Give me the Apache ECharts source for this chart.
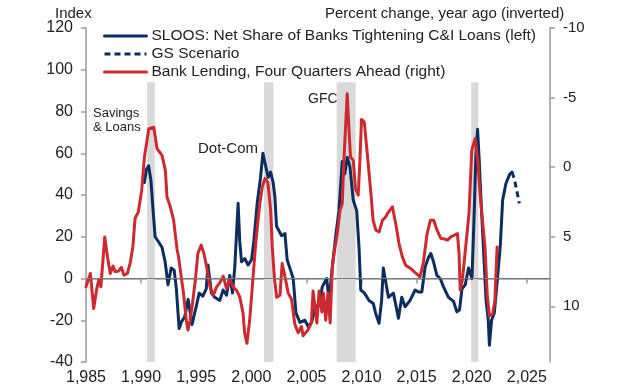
<!DOCTYPE html>
<html>
<head>
<meta charset="utf-8">
<script src="https://cdn.jsdelivr.net/npm/echarts@6/dist/echarts.min.js"></script>
<style>
html,body{margin:0;padding:0;background:#fff;}
#chart{width:621px;height:388px;}
</style>
</head>
<body>
<div id="chart"></div>
<script>
// ---- Data ----
const xTicks = [1985, 1990, 1995, 2000, 2005, 2010, 2015, 2020, 2025];
const leftTicks = [-40, -20, 0, 20, 40, 60, 80, 100, 120];
const rightTicks = [-10, -5, 0, 5, 10];

const seriesNames = [
  'SLOOS: Net Share of Banks Tightening C&I Loans (left)',
  'GS Scenario',
  'Bank Lending, Four Quarters Ahead (right)'
];

// Recession shading (start, end in years)
const recessionStart = [1990.55, 2001.15, 2007.75, 2019.95];
const recessionEnd   = [1991.25, 2002.0, 2009.47, 2020.6];
const recessionTop = 94;   // top of shaded bands, left-axis units

// SLOOS net share tightening (index, left axis) [year, value]
const sloosData = [
[1990.3,46],[1990.47,52],[1990.68,54],[1990.89,47],[1991.07,34],[1991.27,20],[1991.59,17.5],[1991.89,15],
[1992.18,8],[1992.44,-3],[1992.73,5],[1993.0,4],[1993.2,-5],[1993.45,-24],[1993.68,-20.5],[1993.95,-18.5],
[1994.27,-10],[1994.62,-22],[1995.02,-13],[1995.27,-7],[1995.59,-8.5],[1995.91,-5],[1996.07,6.5],[1996.38,-7],
[1996.68,-9],[1997.14,-10.5],[1997.44,-5.5],[1997.75,-8],[1998.05,1.5],[1998.29,-7],[1998.5,5.5],[1998.8,36],
[1998.95,18],[1999.11,8],[1999.41,9.5],[1999.71,6.5],[2000.02,9],[2000.23,18],[2000.53,36],[2000.84,48.5],
[2001.05,60],[2001.38,52],[2001.53,48.5],[2001.75,51],[2001.98,46],[2002.14,39],[2002.29,25],[2002.75,20.5],
[2003.05,21.5],[2003.25,9],[2003.56,4],[2003.8,0],[2004.05,-16.5],[2004.41,-21],[2004.86,-20],[2005.16,-23],
[2005.47,-21],[2005.77,-14.5],[2006.16,-12],[2006.44,-4],[2006.68,-1.5],[2006.84,0],[2007.05,-10.5],[2007.35,5.5],
[2007.65,20],[2007.95,32.5],[2008.25,56],[2008.47,50],[2008.71,58],[2008.95,53.5],[2009.25,37.5],[2009.56,32.5],
[2009.77,15],[2009.93,-5.5],[2010.27,-7],[2010.68,-10.5],[2011.07,-12],[2011.27,-16.5],[2011.59,-21.5],[2011.82,-10.5],
[2011.98,5],[2012.14,0],[2012.44,-9],[2012.89,-7],[2013.35,-19],[2013.65,-9],[2013.95,-13.5],[2014.41,-10.5],
[2014.86,-5.5],[2015.16,-6.5],[2015.47,-6.5],[2015.77,5.5],[2016.07,10],[2016.29,12],[2016.53,8],[2016.84,1.5],
[2017.14,0],[2017.44,-4],[2017.89,-9],[2018.35,-11],[2018.65,-16],[2018.89,-15],[2019.11,-5],[2019.41,-3],
[2019.71,5],[2020.02,0],[2020.23,32.5],[2020.38,60],[2020.53,71.5],[2020.68,56.5],[2020.84,37.5],[2021.07,13.5],
[2021.3,-10.5],[2021.5,-20],[2021.6,-32],[2021.8,-20],[2022.05,-16.5],[2022.35,1],[2022.6,16.5],[2022.8,37.5],
[2023.1,45.5],[2023.45,50],[2023.65,51]
];

// GS scenario (dashed continuation, left axis)
const gsScenarioData = [[2023.65,51],[2023.86,47.8],[2024.11,41.4],[2024.32,36]];

// Bank lending growth, 4 quarters ahead (percent change yoy, right axis, inverted)
const lendingData = [
[1985.0,8.6],[1985.4,7.64],[1985.55,7.52],[1985.7,10.16],[1985.95,8.84],[1986.15,8.12],[1986.35,8.6],[1986.7,5.02],
[1986.95,6.45],[1987.2,7.64],[1987.45,7.11],[1987.65,7.52],[1987.95,7.47],[1988.2,7.2],[1988.45,7.76],[1988.75,7.64],
[1989.0,6.92],[1989.25,5.73],[1989.45,3.69],[1989.75,3.21],[1990.05,1.67],[1990.3,-0.73],[1990.7,-2.77],[1991.15,-2.87],
[1991.45,-1.33],[1991.9,-0.85],[1992.2,0.23],[1992.35,2.15],[1992.65,2.85],[1992.95,3.81],[1993.25,5.84],[1993.4,6.45],
[1993.6,7.64],[1993.85,9.08],[1994.1,11.0],[1994.25,11.7],[1994.45,11.0],[1994.7,9.56],[1994.95,7.88],[1995.15,6.2],
[1995.45,5.6],[1995.7,6.2],[1996.0,7.4],[1996.25,8.6],[1996.55,9.2],[1996.85,8.6],[1997.15,8.3],[1997.45,7.83],
[1997.75,8.72],[1998.05,8.07],[1998.35,8.6],[1998.65,8.84],[1998.95,9.32],[1999.25,10.5],[1999.4,11.94],[1999.6,12.65],
[1999.85,11.0],[2000.15,8.0],[2000.4,5.45],[2000.75,2.75],[2001.0,1.4],[2001.25,0.8],[2001.5,1.1],[2001.75,3.05],
[2001.9,5.75],[2002.1,8.0],[2002.3,9.35],[2002.6,9.2],[2002.8,6.92],[2003.05,7.85],[2003.35,9.05],[2003.65,9.5],
[2003.95,11.3],[2004.25,11.9],[2004.55,11.45],[2004.7,12.12],[2005.15,11.67],[2005.45,11.2],[2005.6,8.9],[2005.95,11.2],
[2006.15,8.9],[2006.4,10.4],[2006.55,9.05],[2006.75,11.0],[2006.95,9.05],[2007.15,11.2],[2007.35,7.16],[2007.55,5.97],
[2007.8,4.77],[2008.05,3.09],[2008.25,2.61],[2008.4,-0.49],[2008.55,-2.87],[2008.7,-5.27],[2008.85,-2.87],[2009.0,-0.73],
[2009.25,-0.49],[2009.45,1.55],[2009.7,2.01],[2009.85,-0.49],[2010.0,-3.43],[2010.25,-3.24],[2010.55,-0.73],[2010.85,1.89],
[2011.05,3.81],[2011.3,4.53],[2011.6,4.65],[2011.9,3.81],[2012.2,3.57],[2012.35,3.33],[2012.8,2.85],[2013.1,4.05],
[2013.4,5.49],[2013.7,6.45],[2014.0,7.04],[2014.45,7.28],[2014.95,7.64],[2015.3,7.88],[2015.6,6.92],[2015.95,4.77],
[2016.25,3.81],[2016.55,3.81],[2016.85,4.53],[2017.2,5.13],[2017.5,5.15],[2017.8,5.25],[2018.1,5.01],[2018.4,4.89],
[2018.7,4.77],[2018.85,6.2],[2018.95,8.84],[2019.15,8.12],[2019.45,5.73],[2019.75,3.33],[2020.0,-1.21],[2020.3,-2.05],
[2020.55,-0.49],[2020.75,1.89],[2021.0,4.05],[2021.2,5.73],[2021.4,9.08],[2021.6,10.7],[2021.9,10.55],[2022.1,9.56],
[2022.3,5.73]
];

// ---- Chart ----
const FONT = "'Liberation Sans', Arial, sans-serif";
const TXT = '#222222';
const AXIS = '#9a9a9a';
const NAVY = '#0c2d5e';
const RED = '#cc2a30';

const bands = recessionStart.map((s, i) => [
  { xAxis: s, yAxis: leftTicks[0] },
  { xAxis: recessionEnd[i], yAxis: recessionTop }
]);

const chart = echarts.init(document.getElementById('chart'), null, { renderer: 'canvas' });
chart.setOption({
  animation: false,
  backgroundColor: '#ffffff',
  textStyle: { fontFamily: FONT },
  grid: { left: 86, right: 71, top: 28, bottom: 26, containLabel: false, outerBoundsMode: 'none' },
  legend: {
    orient: 'vertical', left: 103, top: 28, itemGap: 2, padding: 0,
    itemWidth: 42, itemHeight: 14,
    data: seriesNames,
    itemStyle: { opacity: 0 },
    lineStyle: { width: 3 },
    textStyle: { fontFamily: FONT, fontSize: 15.5, color: TXT },
    selectedMode: false
  },
  xAxis: {
    type: 'value', min: xTicks[0], max: 2027.1,
    axisLine: { show: true, lineStyle: { color: AXIS, width: 1.5 } },
    axisTick: { show: true, length: 5, lineStyle: { color: AXIS, width: 1.5 }, customValues: xTicks },
    axisLabel: { customValues: xTicks, color: TXT, fontSize: 16, fontFamily: FONT, margin: 8 },
    splitLine: { show: false }
  },
  yAxis: [
    {
      type: 'value', min: leftTicks[0], max: leftTicks[leftTicks.length - 1], interval: 20,
      axisLine: { show: true, lineStyle: { color: AXIS, width: 1.5 } },
      axisTick: { show: true, length: 5, lineStyle: { color: AXIS, width: 1.5 } },
      axisLabel: { color: TXT, fontSize: 16, fontFamily: FONT, margin: 13 },
      splitLine: { show: false }
    },
    {
      type: 'value', min: -10, max: 14, inverse: true, position: 'right',
      axisLine: { show: true, lineStyle: { color: AXIS, width: 1.5 } },
      axisTick: { show: true, length: 5, lineStyle: { color: AXIS, width: 1.5 }, customValues: rightTicks },
      axisLabel: { customValues: rightTicks, color: TXT, fontSize: 15, fontFamily: FONT, margin: 13 },
      splitLine: { show: false }
    }
  ],
  graphic: [
    { type: 'text', left: 55, top: 6, style: { text: 'Index', font: '15px ' + FONT, fill: TXT } },
    { type: 'text', left: 325, top: 6, style: { text: 'Percent change, year ago (inverted)', font: '15px ' + FONT, fill: TXT } },
    { type: 'text', left: 93, top: 106, style: { text: 'Savings\n& Loans', font: '13px ' + FONT, fill: TXT, align: 'center', lineHeight: 14 } },
    { type: 'text', left: 198, top: 141, style: { text: 'Dot-Com', font: '15px ' + FONT, fill: TXT } },
    { type: 'text', left: 308, top: 92, style: { text: 'GFC', font: '14px ' + FONT, fill: TXT } }
  ],
  series: [
    {
      name: seriesNames[0], type: 'line', yAxisIndex: 0, data: sloosData,
      symbol: 'none', z: 3,
      lineStyle: { color: NAVY, width: 3, join: 'round', cap: 'round' },
      itemStyle: { color: NAVY },
      markArea: { silent: true, itemStyle: { color: '#d9d9d9' }, data: bands, z: 1 },
      markLine: {
        silent: true, symbol: 'none', label: { show: false },
        lineStyle: { color: '#7a7a7a', width: 1, type: 'solid' },
        data: [{ yAxis: 0 }]
      }
    },
    {
      name: seriesNames[1], type: 'line', yAxisIndex: 0, data: gsScenarioData,
      symbol: 'none', z: 3,
      lineStyle: { color: NAVY, width: 3, type: [6, 4] },
      itemStyle: { color: NAVY }
    },
    {
      name: seriesNames[2], type: 'line', yAxisIndex: 1, data: lendingData,
      symbol: 'none', z: 4,
      lineStyle: { color: RED, width: 3, join: 'round', cap: 'round' },
      itemStyle: { color: RED }
    }
  ]
});
</script>
</body>
</html>
